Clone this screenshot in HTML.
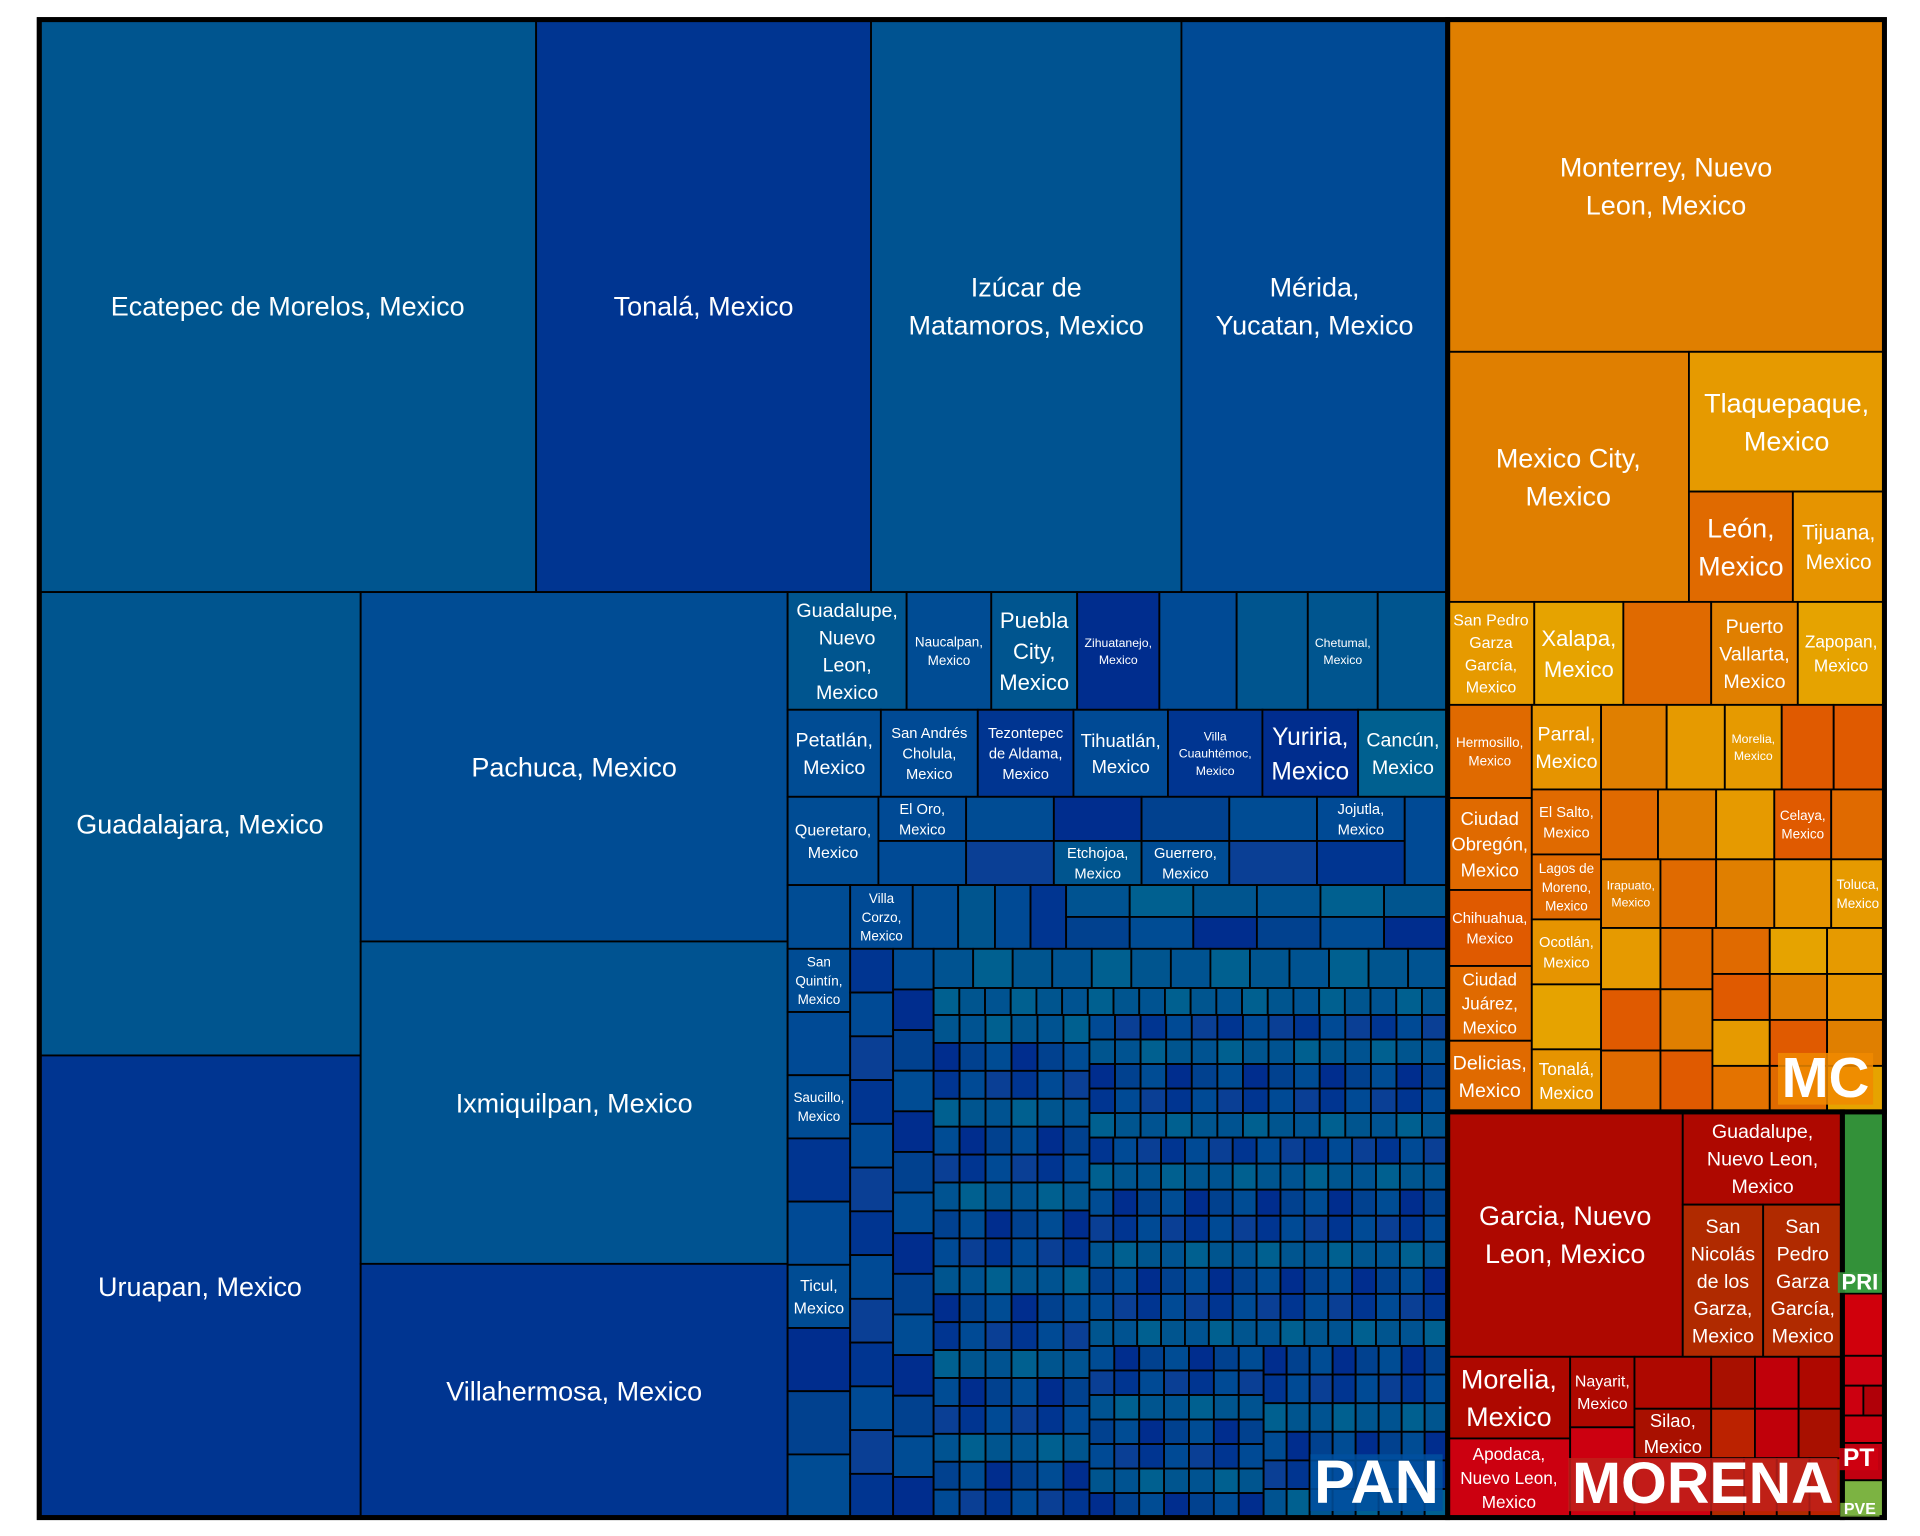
<!DOCTYPE html>
<html><head><meta charset="utf-8"><style>
html,body{margin:0;padding:0;background:#fff;}
svg{display:block;font-family:"Liberation Sans",Arial,sans-serif;}
</style></head><body>
<svg id="chart" width="1920" height="1536" viewBox="0 0 1565 1253" preserveAspectRatio="none" xmlns="http://www.w3.org/2000/svg"></svg>
<script>
// Palettes (style only)
const PAN=['#00558f','#003591','#004c94','#005391','#004a95','#002d8e','#006090','#0a3f95','#01418f'];
const MCP=['#e07f00','#e69a00','#e06a00','#e69400','#e05a00','#e6a300','#e47300'];
const MOR=['#ae0800','#b02a00','#cc0010','#a81000','#bb2200','#c0000a'];
// node builders
function L(v,label,c,fs){return {v:v,label:label||'',c:c,fs:fs||12};}
function H(v,...k){return {v:v,d:'h',k:k};}
function V(v,...k){return {v:v,d:'v',k:k};}
function cells(vals,pal,off){return vals.map((v,i)=>L(v,'',pal[(i*3+off)%pal.length]));}
function grid(v,rows,cols,pal,seed){
  const r=[];for(let i=0;i<rows;i++){r.push(H(1,...cells(Array(cols).fill(1),pal,i*5+seed)));}
  return V(v,...r);
}
// ---- data: estimated relative values ----
const panTopValues=[405,273,253,217];
const panRowAValues=[97,69,70,67,63,58,57,57];
const panRowBValues=[76,79,78,77,77,78,73];
const mcRowValues=[70,72,71,70,70];
const moreTopValues=[190,129];
const partyWidthValues=[319,34];
const otherPartyValues=[146,150,30];

const pan=V(1148,
  H(467,
    L(panTopValues[0],'Ecatepec de Morelos, Mexico',PAN[0],22),
    L(panTopValues[1],'Tonalá, Mexico',PAN[1],22),
    L(panTopValues[2],'Izúcar de|Matamoros, Mexico',PAN[3],22),
    L(panTopValues[3],'Mérida,|Yucatan, Mexico',PAN[4],22)),
  H(755,
    V(262,L(378,'Guadalajara, Mexico',PAN[0],22),L(377,'Uruapan, Mexico',PAN[1],22)),
    V(348,L(285,'Pachuca, Mexico',PAN[2],22),L(263,'Ixmiquilpan, Mexico',PAN[3],22),L(207,'Villahermosa, Mexico',PAN[1],22)),
    V(538,
      H(96,L(panRowAValues[0],'Guadalupe,|Nuevo|Leon,|Mexico',PAN[0],16),L(panRowAValues[1],'Naucalpan,|Mexico',PAN[2],11),
        L(panRowAValues[2],'Puebla|City,|Mexico',PAN[0],18),L(panRowAValues[3],'Zihuatanejo,|Mexico',PAN[5],10),
        L(panRowAValues[4],'',PAN[4],12),L(panRowAValues[5],'',PAN[0],12),L(panRowAValues[6],'Chetumal,|Mexico',PAN[0],10),L(panRowAValues[7],'',PAN[0],12)),
      H(71,L(panRowBValues[0],'Petatlán,|Mexico',PAN[2],16),L(panRowBValues[1],'San Andrés|Cholula,|Mexico',PAN[4],12),
        L(panRowBValues[2],'Tezontepec|de Aldama,|Mexico',PAN[1],12),L(panRowBValues[3],'Tihuatlán,|Mexico',PAN[4],15),
        L(panRowBValues[4],'Villa|Cuauhtémoc,|Mexico',PAN[1],10),L(panRowBValues[5],'Yuriria,|Mexico',PAN[5],20),L(panRowBValues[6],'Cancún,|Mexico',PAN[6],16)),
      H(72,L(74,'Queretaro,|Mexico',PAN[2],13),
        V(429,H(1,L(1,'El Oro,|Mexico',PAN[4],12),...cells([1,1,1,1],PAN,2),L(1,'Jojutla,|Mexico',PAN[4],12)),
              H(1,...cells([1,1],PAN,4),L(1,'Etchojoa,|Mexico',PAN[0],12),L(1,'Guerrero,|Mexico',PAN[2],12),...cells([1,1],PAN,7))),
        L(35,'',PAN[4])),
      H(52,L(51,'',PAN[2]),L(51,'Villa|Corzo,|Mexico',PAN[4],11),L(37,'',PAN[2]),L(30,'',PAN[0]),L(29,'',PAN[4]),L(29,'',PAN[1]),grid(311,2,6,PAN,3)),
      H(464,
        V(51,L(1,'San|Quintín,|Mexico',PAN[2],11),...cells([1],PAN,4),L(1,'Saucillo,|Mexico',PAN[2],11),...cells([1,1],PAN,1),L(1,'Ticul,|Mexico',PAN[2],13),...cells([1,1,1],PAN,5)),
        V(35,...cells(Array(13).fill(1),PAN,1)),
        V(33,...cells(Array(14).fill(1),PAN,2)),
        V(419,H(32,...cells(Array(13).fill(1),PAN,3)),H(22,...cells(Array(20).fill(1),PAN,6)),
          H(410,grid(127,18,6,PAN,0),
            V(292,grid(100,5,14,PAN,4),grid(170,8,15,PAN,1),
              H(140,grid(142,7,7,PAN,2),grid(150,6,8,PAN,5)))))))));

const mc=V(891,
  L(271,'Monterrey, Nuevo|Leon, Mexico',MCP[0],22),
  H(204,L(195,'Mexico City,|Mexico',MCP[0],22),
    V(158,L(114,'Tlaquepaque,|Mexico',MCP[1],22),H(90,L(84,'León,|Mexico',MCP[2],22),L(74,'Tijuana,|Mexico',MCP[3],17)))),
  H(84,L(mcRowValues[0],'San Pedro|Garza|García,|Mexico',MCP[1],13),L(mcRowValues[1],'Xalapa,|Mexico',MCP[5],18),
    L(mcRowValues[2],'',MCP[2]),L(mcRowValues[3],'Puerto|Vallarta,|Mexico',MCP[0],16),L(mcRowValues[4],'Zapopan,|Mexico',MCP[5],14)),
  H(332,
    V(68,L(76,'Hermosillo,|Mexico',MCP[2],11),L(75,'Ciudad|Obregón,|Mexico',MCP[2],15),L(62,'Chihuahua,|Mexico',MCP[4],12),L(61,'Ciudad|Juárez,|Mexico',MCP[2],14),L(58,'Delicias,|Mexico',MCP[2],16)),
    V(56,L(69,'Parral,|Mexico',MCP[3],16),L(53,'El Salto,|Mexico',MCP[2],12),L(53,'Lagos de|Moreno,|Mexico',MCP[2],11),L(53,'Ocotlán,|Mexico',MCP[3],12),L(53,'',MCP[5]),L(51,'Tonalá,|Mexico',MCP[3],14)),
    V(229,H(69,L(53,'',MCP[0]),L(47,'',MCP[1]),L(46,'Morelia,|Mexico',MCP[1],10),L(42,'',MCP[4]),L(41,'',MCP[4])),
      H(57,L(46,'',MCP[2]),L(47,'',MCP[0]),L(47,'',MCP[1]),L(46,'Celaya,|Mexico',MCP[4],11),L(43,'',MCP[2])),
      H(56,L(48,'Irapuato,|Mexico',MCP[0],10),L(45,'',MCP[2]),L(47,'',MCP[0]),L(46,'',MCP[3]),L(43,'Toluca,|Mexico',MCP[1],11)),
      H(150,V(48,L(1,'',MCP[1]),L(1,'',MCP[4]),L(1,'',MCP[2])),V(42,L(1,'',MCP[2]),L(1,'',MCP[0]),L(1,'',MCP[4])),
        V(139,H(1,...cells([1,1,1],MCP,2)),H(1,...cells([1,1,1],MCP,4)),grid(2,2,3,MCP,1))))));

const morena=V(partyWidthValues[0],
  H(198,L(moreTopValues[0],'Garcia, Nuevo|Leon, Mexico',MOR[0],22),
    V(moreTopValues[1],L(75,'Guadalupe,|Nuevo Leon,|Mexico',MOR[0],16),H(123,L(65,'San|Nicolás|de los|Garza,|Mexico',MOR[1],16),L(64,'San|Pedro|Garza|García,|Mexico',MOR[1],16)))),
  H(130,V(99,L(66,'Morelia,|Mexico',MOR[0],22),L(64,'Apodaca,|Nuevo Leon,|Mexico',MOR[2],14)),
    V(52,L(57,'Nayarit,|Mexico',MOR[0],13),L(73,'',MOR[2])),
    V(62,L(42,'',MOR[0]),L(40,'Silao,|Mexico',MOR[3],15),L(48,'',MOR[2])),
    V(106,H(42,L(1,'',MOR[3]),L(1,'',MOR[5]),L(1,'',MOR[0])),H(40,L(1,'',MOR[4]),L(1,'',MOR[5]),L(1,'',MOR[3])),H(48,...cells([1,1,1,1],MOR,1)))));

const others=V(partyWidthValues[1],L(otherPartyValues[0],'','#339139'),
  V(otherPartyValues[1],L(50,'','#d0000c'),L(24,'','#cc0010'),H(24,L(1,'','#cc0010'),L(1,'','#b00008')),L(22,'','#cc0010'),L(30,'','#c00010')),
  L(otherPartyValues[2],'','#7cb342'));

const root=H(1504,pan,V(356,mc,H(331,morena,others)));
// ---- render ----
const NS='http://www.w3.org/2000/svg';
const svg=document.getElementById('chart');
const gCells=document.createElementNS(NS,'g');svg.appendChild(gCells);
const gText=document.createElementNS(NS,'g');svg.appendChild(gText);
function lay(n,x,y,w,h){
  n.box=[x,y,w,h];
  if(!n.k){
    const r=document.createElementNS(NS,'rect');
    r.setAttribute('x',x);r.setAttribute('y',y);r.setAttribute('width',w);r.setAttribute('height',h);
    r.setAttribute('fill',n.c);r.setAttribute('stroke','#000');r.setAttribute('stroke-width','1.5');
    
    
    gCells.appendChild(r);
    if(n.label){
      const lines=n.label.split('|');const lh=n.fs*1.4;
      const t=document.createElementNS(NS,'text');
      t.setAttribute('text-anchor','middle');t.setAttribute('fill','#fff');t.setAttribute('font-size',n.fs);
      
      
      lines.forEach((s,i)=>{const sp=document.createElementNS(NS,'tspan');sp.setAttribute('x',x+w/2);
        sp.setAttribute('y',y+h/2+(i-(lines.length-1)/2)*lh+n.fs*0.36);sp.textContent=s;t.appendChild(sp);});
      gText.appendChild(t);
    }
    return;
  }
  const tot=n.k.reduce((a,c)=>a+c.v,0);let o=0;
  n.k.forEach(c=>{
    if(n.d==='h'){const cw=w*c.v/tot;lay(c,x+o,y,cw,h);o+=cw;}
    else{const ch=h*c.v/tot;lay(c,x,y+o,w,ch);o+=ch;}
  });
}
lay(root,32,16,1504,1222);
function outline(n,name){const[x,y,w,h]=n.box;const r=document.createElementNS(NS,'rect');
  r.setAttribute('x',x);r.setAttribute('y',y);r.setAttribute('width',w);r.setAttribute('height',h);
  r.setAttribute('fill','none');r.setAttribute('stroke','#000');r.setAttribute('stroke-width','4');
  
  
  svg.appendChild(r);}
outline(pan,'pan-group');outline(mc,'mc-group');outline(morena,'morena-group');outline(others,'other-parties-group');
outline(root,'treemap-frame');
function partyLabel(txt,x,y,fs,bg,name){
  const t=document.createElementNS(NS,'text');t.setAttribute('x',x);t.setAttribute('y',y);
  t.setAttribute('text-anchor','middle');t.setAttribute('font-size',fs);t.setAttribute('font-weight','bold');
  t.setAttribute('fill','#fff');t.textContent=txt;
  
  
  svg.appendChild(t);
  const bb=t.getBBox();const r=document.createElementNS(NS,'rect');
  r.setAttribute('x',bb.x-3);r.setAttribute('y',bb.y+fs*0.12);r.setAttribute('width',bb.width+6);r.setAttribute('height',bb.height-fs*0.2);
  r.setAttribute('fill',bg);r.setAttribute('opacity','0.85');
  
  
  svg.insertBefore(r,t);
}
partyLabel('PAN',1122,1226,50,'#0050a0','pan-label');
partyLabel('MORENA',1388,1226,48,'#c0201a','morena-label');
partyLabel('MC',1488,895,46,'#f08a00','mc-label');
partyLabel('PRI',1516,1052,18,'#3a9a40','pri-label');
partyLabel('PT',1515,1196,20,'#d00010','pt-label');
partyLabel('PVE',1516,1235,13,'#7cb342','pve-label');
</script>
</body></html>
